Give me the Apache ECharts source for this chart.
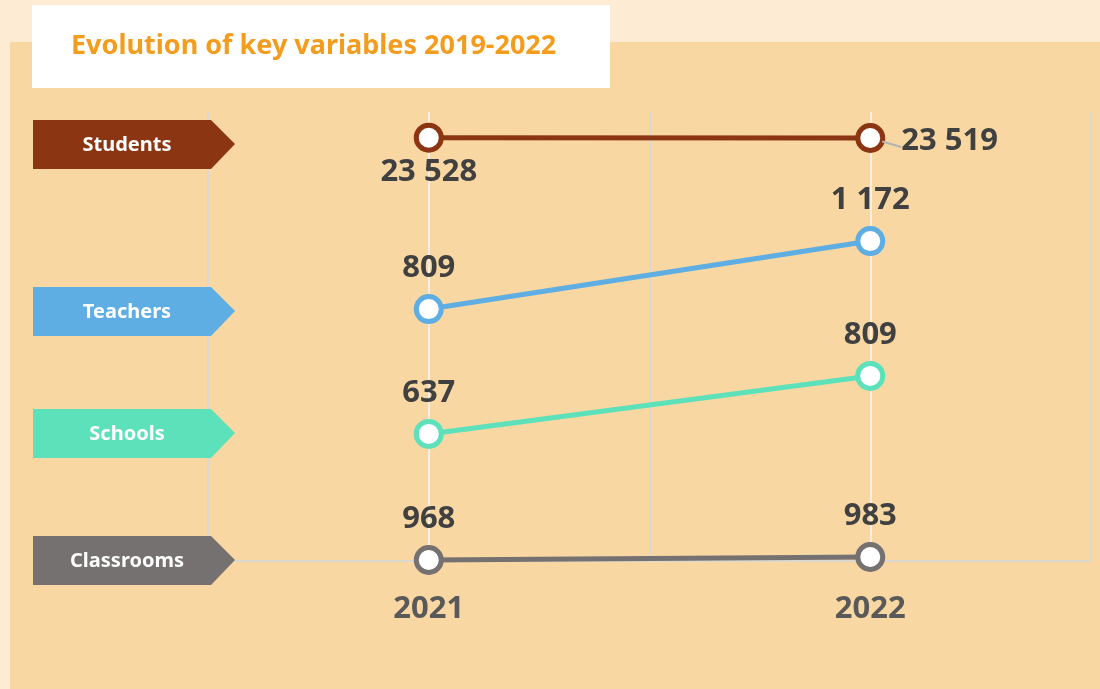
<!DOCTYPE html>
<html>
<head>
<meta charset="utf-8">
<script src="https://cdn.jsdelivr.net/npm/echarts@6/dist/echarts.min.js"></script>
<style>
  html, body { margin: 0; padding: 0; background: #fdebd3; }
  #chart { width: 1100px; height: 689px; }
</style>
</head>
<body>
<div id="chart"></div>
<script>
// data
const years = ['2021', '2022'];
const seriesNames = ['Students', 'Teachers', 'Schools', 'Classrooms'];
const studentsValues = [23528, 23519];
const teachersValues = [809, 1172];
const schoolsValues = [637, 809];
const classroomsValues = [968, 983];

const colors = ['#8b3513', '#5eade3', '#5ce1bb', '#767171'];
// each series sits on its own band: hidden y axis ranges
const axisRanges = [
  [10829, 24299],
  [-536, 1861],
  [260, 1592],
  [963, 3208]
];
// tag vertical centres
const tagCenters = [144, 311, 433, 560];

const FONT = '"Noto Sans", "Open Sans", sans-serif';

function fmt(v) {
  return String(v).replace(/\B(?=(\d{3})+(?!\d))/g, ' ');
}

const chart = echarts.init(document.getElementById('chart'));

const allValues = [studentsValues, teachersValues, schoolsValues, classroomsValues];

const series = allValues.map(function (vals, i) {
  const data = vals.map(function (v, j) {
    const item = { value: v };
    if (i === 0) {
      item.label = j === 0
        ? { position: 'bottom', distance: 4 }
        : { position: 'right', distance: 16, offset: [0, 3], lineHeight: 12 };
      if (j === 1) item.labelLine = { show: true, showAbove: true, lineStyle: { color: '#b3b3b3', width: 2 } };
    }
    return item;
  });
  const s = {
    name: seriesNames[i],
    type: 'line',
    yAxisIndex: i,
    data: data,
    symbol: 'circle',
    symbolSize: 25,
    lineStyle: { width: 5, color: colors[i] },
    itemStyle: { color: '#ffffff', borderColor: colors[i], borderWidth: 5 },
    label: {
      show: true,
      position: 'top',
      distance: 10,
      formatter: function (p) { return fmt(p.value); },
      color: '#404040',
      fontSize: 31,
      fontWeight: 'bold',
      fontFamily: FONT
    },
    emphasis: { disabled: true },
    z: 3
  };
  if (i === 0) {
    s.markLine = {
      silent: true,
      symbol: 'none',
      label: { show: false },
      lineStyle: { color: '#f7efe4', width: 2, type: 'solid' },
      data: years.map(function (y) { return { xAxis: y }; }),
      z: 1
    };
  }
  return s;
});

const graphics = [
  { type: 'rect', shape: { x: 10, y: 42, width: 1090, height: 647 }, style: { fill: '#f8d7a2' }, z: -10, silent: true },
  { type: 'rect', shape: { x: 32, y: 5, width: 578, height: 83 }, style: { fill: '#ffffff' }, z: -9, silent: true }
];
seriesNames.forEach(function (name, i) {
  const c = tagCenters[i];
  graphics.push({
    type: 'polygon',
    shape: { points: [[33, c - 24], [211, c - 24], [235, c], [211, c + 25], [33, c + 25]] },
    style: { fill: colors[i] },
    z: 10
  });
  graphics.push({
    type: 'text',
    x: 127, y: c + 1,
    style: {
      text: name, fill: '#ffffff', font: 'bold 20px ' + FONT,
      align: 'center', verticalAlign: 'middle'
    },
    z: 11
  });
});

chart.setOption({
  backgroundColor: '#fdebd3',
  animation: false,
  title: {
    text: 'Evolution of key variables 2019-2022',
    left: 66, top: 28,
    textStyle: { color: '#f39c1d', fontSize: 27, fontWeight: 'bold', fontFamily: FONT }
  },
  graphic: graphics,
  grid: { left: 208, right: 9, top: 112, bottom: 128 },
  xAxis: {
    type: 'category',
    data: years,
    boundaryGap: true,
    axisLine: { show: true, onZero: false, lineStyle: { color: '#ddd8cf', width: 2 } },
    axisTick: { show: false },
    splitLine: { show: true, lineStyle: { color: '#ddd8cf', width: 2 } },
    axisLabel: {
      margin: 33, color: '#595959', fontSize: 31, fontWeight: 'bold', fontFamily: FONT
    }
  },
  yAxis: axisRanges.map(function (r) {
    return { type: 'value', min: r[0], max: r[1], show: false, splitLine: { show: false } };
  }),
  series: series
});
</script>
</body>
</html>
